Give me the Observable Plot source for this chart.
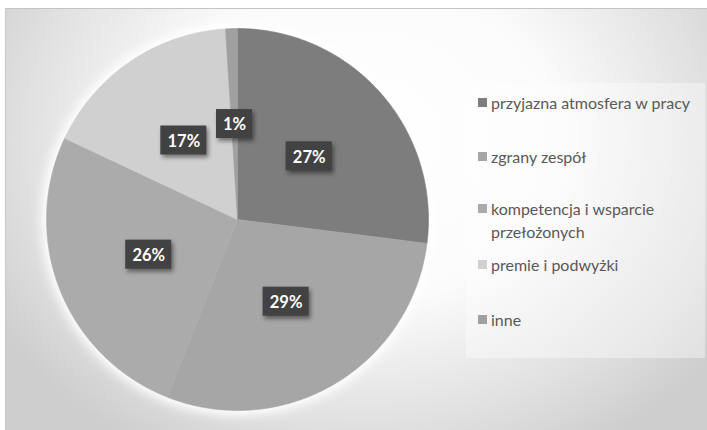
<!DOCTYPE html>
<html>
<head>
<meta charset="utf-8">
<script src="https://cdn.jsdelivr.net/npm/d3@7"></script>
<script src="https://cdn.jsdelivr.net/npm/@observablehq/plot@0.6"></script>
<style>
  html, body { margin: 0; padding: 0; background: #fff; }
  #wrap { position: relative; width: 707px; height: 430px; overflow: hidden; background: #fff; }
  #bg { position: absolute; left: 5px; top: 8px; width: 702px; height: 422px;
        border-top: 1px solid #c4c4c4; border-left: 1px solid #c8c8c8; box-sizing: border-box;
        background: radial-gradient(ellipse 430px 360px at 360px 130px, #ffffff 0%, #fbfbfb 45%, #e0e0e0 80%, #cecece 100%); }
  #chart { position: absolute; left: 0; top: 0; }
  #legend { position: absolute; left: 466px; top: 83px; width: 239px; height: 275px;
            background: rgba(255,255,255,0.38); font-family: Lato, "Open Sans", sans-serif;
            font-size: 16px; color: #595959; box-sizing: border-box; padding-left: 12px; }
  .item { position: relative; padding-left: 13px; line-height: 23px; white-space: nowrap; }
  .item .sw { position: absolute; left: 0; top: 7px; width: 9px; height: 9px; }
  .item:nth-child(1) { margin-top: 8px; }
  .item:nth-child(2) { margin-top: 31px; }
  .item:nth-child(3) { margin-top: 29px; }
  .item:nth-child(4) { margin-top: 10px; }
  .item:nth-child(5) { margin-top: 32px; }
</style>
</head>
<body>
<div id="wrap">
  <div id="bg"></div>
  <div id="chart"></div>
  <div id="legend"></div>
</div>
<script>
const categories = ["przyjazna atmosfera w pracy", "zgrany zespół", "kompetencja i wsparcie przełożonych", "premie i podwyżki", "inne"];
const legendLines = [["przyjazna atmosfera w pracy"], ["zgrany zespół"], ["kompetencja i wsparcie", "przełożonych"], ["premie i podwyżki"], ["inne"]];
const values = [27, 29, 26, 17, 1];
const labels = ["27%", "29%", "26%", "17%", "1%"];
const colors = ["#7d7d7d", "#a6a6a6", "#ababab", "#d0d0d0", "#a0a0a0"];

// layout
const W = 707, H = 430;
const CX = 237, CY = 219, R = 191;

const total = d3.sum(values);
let acc = 0;
const slices = values.map((v, i) => {
  const a0 = acc / total * 2 * Math.PI;
  acc += v;
  const a1 = acc / total * 2 * Math.PI;
  return {cat: categories[i], label: labels[i], a0, a1, mid: (a0 + a1) / 2};
});

const pts = [];
for (const s of slices) {
  pts.push({cat: s.cat, x: 0, y: 0});
  const n = Math.max(2, Math.ceil((s.a1 - s.a0) / (Math.PI / 360)));
  for (let k = 0; k <= n; k++) {
    const a = s.a0 + (s.a1 - s.a0) * k / n;
    pts.push({cat: s.cat, x: Math.sin(a), y: Math.cos(a)});
  }
  pts.push({cat: s.cat, x: 0, y: 0});
}

const LR = 0.5;
const lab = slices.map(s => {
  const x = LR * Math.sin(s.mid), y = LR * Math.cos(s.mid);
  const hw = (s.label.length * 10 + 16) / 2 / R, hh = 14.5 / R;
  return {label: s.label, x, y, x1: x - hw, x2: x + hw, y1: y - hh, y2: y + hh};
});

const chart = Plot.plot({
  width: W, height: H,
  margin: 0,
  style: {background: "transparent", overflow: "visible"},
  x: {domain: [-1, 1], range: [CX - R, CX + R], axis: null},
  y: {domain: [-1, 1], range: [CY + R, CY - R], axis: null},
  color: {domain: categories, range: colors},
  marks: [
    Plot.line(pts, {x: "x", y: "y", z: "cat", fill: "cat", stroke: "cat", strokeWidth: 0.6, curve: "linear"}),
    Plot.rect(lab, {x1: "x1", x2: "x2", y1: "y1", y2: "y2", fill: "#424242"}),
    Plot.text(lab, {x: "x", y: "y", text: "label", fill: "white", fontSize: 16.5, fontWeight: "bold", fontFamily: "Lato, 'Open Sans', sans-serif", dy: 1})
  ]
});
d3.select(chart).select('g[aria-label="line"]').style("filter", "drop-shadow(0 0 7px #fff) drop-shadow(0 0 5px #fff)");
d3.select(chart).select('g[aria-label="rect"]').style("filter", "drop-shadow(2px 3px 2px rgba(0,0,0,0.45))");
document.getElementById("chart").appendChild(chart);

const legend = d3.select("#legend");
categories.forEach((c, i) => {
  const it = legend.append("div").attr("class", "item");
  it.append("span").attr("class", "sw").style("background", colors[i]);
  it.append("span").html(legendLines[i].join("<br>"));
});
</script>
</body>
</html>
